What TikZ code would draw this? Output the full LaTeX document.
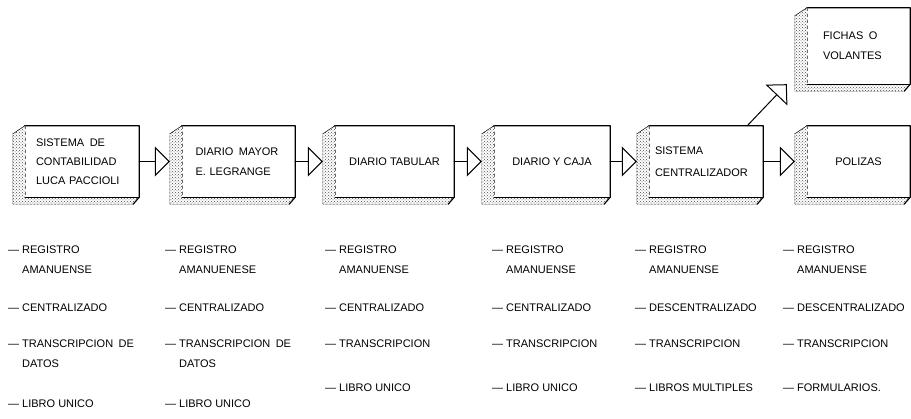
\documentclass[tikz,border=0pt]{standalone}
\usepackage{fontspec}
\setmainfont{Liberation Sans}
\usetikzlibrary{arrows.meta,patterns,positioning}
\tikzset{
  every picture/.style={line join=round, line cap=round, >=Stealth},
  face/.style={inner sep=0pt, minimum height=71pt, font=\fontsize{11}{19}\selectfont},
  bevel/.style={pattern=crosshatch dots, pattern color=black!70},
  rim/.style={line width=1.2pt},
  flow/.style={line width=1pt, -{Triangle[open,length=15pt,width=30pt]}},
  lista/.style={anchor=north west, inner sep=0pt, align=left, font=\fontsize{11}{20}\selectfont},
}
\newcommand{\guion}{\textemdash\hspace{3pt}}
\newcommand{\sangria}{\phantom{\guion}}

\begin{document}
\begin{tikzpicture}[x=1pt,y=-1pt]
\useasboundingbox (0,0) rectangle (911,419);
% cajas
\node[face, minimum width=114pt, text width=92pt, align=left] (b1) at (82,161.5) {SISTEMA\enspace DE\\CONTABILIDAD\\LUCA PACCIOLI};
\node[face, minimum width=113pt, text width=86pt, align=left] (b2) at (238.5,161.5) {DIARIO\enspace MAYOR\\[1pt]E. LEGRANGE};
\node[face, minimum width=119pt] (b3) at (394.5,161.5) {DIARIO TABULAR};
\node[face, minimum width=116pt] (b4) at (552,161.5) {DIARIO Y CAJA};
\node[face, minimum width=114pt, text width=102pt, align=left] (b5) at (706,161.5) {SISTEMA\\[3pt]CENTRALIZADOR};
\node[face, minimum width=103pt] (b6) at (858.5,161.5) {POLIZAS};
\node[face, minimum width=103pt, minimum height=76pt, text width=71pt, align=left] (b7) at (858.5,46) {FICHAS\enspace O\\[1pt]VOLANTES};
% relieve
\foreach \n in {b1,b2,b3,b4,b5,b6,b7}{
  \fill[bevel] (\n.north west) -- ++(-12,8) |- ([shift={(-6,7)}]\n.south east) -- (\n.south east) -- (\n.south west) -- cycle;
  \draw[thin, densely dotted] (\n.north west) -- ++(-12,8) |- ([shift={(-6,7)}]\n.south east);
  \draw[rim] ([shift={(-6,7)}]\n.south east) -- (\n.south east) -- (\n.north east) -- (\n.north west);
  \draw[thin] (\n.north west) -- ++(-12,8);
  \draw[thin] (\n.south west) -- (\n.south east);
  \draw[thin, dashed, black!60] (\n.north west) -- (\n.south west);
}
% flechas
\foreach \a/\b in {b1/b2,b2/b3,b3/b4,b4/b5,b5/b6}
  \draw[flow] (\a.east) -- ([xshift=-12pt]\b.west);
\draw[flow] ([xshift=-16pt]b5.north east) -- ([xshift=-20pt]b7.south west);
% listas
\node[lista] (l1) at (8,246) {\guion REGISTRO\\ \sangria AMANUENSE\\[18pt] \guion CENTRALIZADO\\[16pt] \guion TRANSCRIPCION\enspace DE\\ \sangria DATOS\\[20pt] \guion LIBRO UNICO};
\node[lista] (l2) at (165,246) {\guion REGISTRO\\ \sangria AMANUENESE\\[18pt] \guion CENTRALIZADO\\[16pt] \guion TRANSCRIPCION\enspace DE\\ \sangria DATOS\\[20pt] \guion LIBRO UNICO};
\node[lista] (l3) at (325,246) {\guion REGISTRO\\ \sangria AMANUENSE\\[18pt] \guion CENTRALIZADO\\[16pt] \guion TRANSCRIPCION\\[24pt] \guion LIBRO UNICO};
\node[lista] (l4) at (492,246) {\guion REGISTRO\\ \sangria AMANUENSE\\[18pt] \guion CENTRALIZADO\\[16pt] \guion TRANSCRIPCION\\[24pt] \guion LIBRO UNICO};
\node[lista] (l5) at (635,246) {\guion REGISTRO\\ \sangria AMANUENSE\\[18pt] \guion DESCENTRALIZADO\\[16pt] \guion TRANSCRIPCION\\[24pt] \guion LIBROS MULTIPLES};
\node[lista] (l6) at (783,246) {\guion REGISTRO\\ \sangria AMANUENSE\\[18pt] \guion DESCENTRALIZADO\\[16pt] \guion TRANSCRIPCION\\[24pt] \guion FORMULARIOS.};
\end{tikzpicture}
\end{document}
